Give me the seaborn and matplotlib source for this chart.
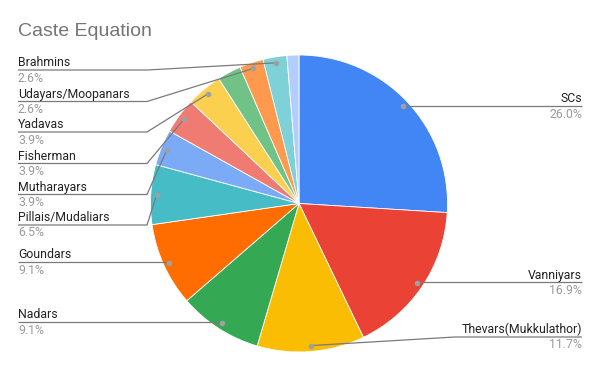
import matplotlib
matplotlib.use("Agg")
import matplotlib.pyplot as plt
import seaborn as sns
import numpy as np

# ---- data ----
categories = ["SCs", "Vanniyars", "Thevars(Mukkulathor)", "Nadars", "Goundars",
              "Pillais/Mudaliars", "Mutharayars", "Fisherman", "Yadavas",
              "Others A", "Udayars/Moopanars", "Brahmins", "Others B"]
shares = [26.0, 16.9, 11.7, 9.1, 9.1, 6.5, 3.9, 3.9, 3.9, 2.6, 2.6, 2.6, 1.3]
show_label = [True, True, True, True, True, True, True, True, True,
              False, True, True, False]
colors = ["#4285F4", "#EA4335", "#FBBC04", "#34A853", "#FF6D01", "#46BDC6",
          "#7BAAF7", "#F07B72", "#FCD04F", "#71C287", "#FF994D", "#7ED1D7",
          "#B3CEFB"]
title = "Caste Equation"

# ---- layout (pixel space, y from top) ----
W, H = 600, 371
label_layout = {
    "SCs": ("right", 106, None),
    "Vanniyars": ("right", 282, None),
    "Thevars(Mukkulathor)": ("right", 337, 455),
    "Nadars": ("left", 322, None),
    "Goundars": ("left", 262, None),
    "Pillais/Mudaliars": ("left", 225, 147),
    "Mutharayars": ("left", 194.5, 147),
    "Fisherman": ("left", 163.5, 147),
    "Yadavas": ("left", 132, 147),
    "Udayars/Moopanars": ("left", 101.5, 147),
    "Brahmins": ("left", 70, 147),
}

sns.set_theme(style="white")
plt.rcParams["font.family"] = ["Roboto", "DejaVu Sans"]

fig = plt.figure(figsize=(W / 100, H / 100), dpi=100)
ax = fig.add_axes([0, 0, 1, 1])
cx, cy, R = 299, 203.5, 148.5
pal = sns.color_palette(colors)
wedges, _ = ax.pie(shares, colors=pal, startangle=90, counterclock=False,
                   center=(cx, H - cy), radius=R,
                   wedgeprops=dict(edgecolor="white", linewidth=0.6))
ax.set_xlim(0, W)
ax.set_ylim(0, H)
ax.set_aspect("equal")
ax.axis("off")

def Y(y):
    return H - y

line_c = "#7a7a7a"
fs = 8.8
for w, name, val, show in zip(wedges, categories, shares, show_label):
    if not show:
        continue
    mid = np.deg2rad((w.theta1 + w.theta2) / 2)
    dx = cx + 0.96 * R * np.cos(mid)
    dy = (H - cy) + 0.96 * R * np.sin(mid)
    side, uy, bx = label_layout[name]
    if side == "right":
        x_end = 582
        if bx is None:
            xs, ys = [x_end, dx], [Y(uy), Y(uy)]
        else:
            xs, ys = [x_end, bx, dx], [Y(uy), Y(uy), dy]
        ax.plot(xs, ys, color=line_c, lw=0.9, solid_capstyle="butt", zorder=3)
        ax.text(x_end, Y(uy - 3.5), name, ha="right", va="baseline",
                fontsize=fs, color="#222222")
        ax.text(x_end, Y(uy + 11.5), f"{val:.1f}%", ha="right", va="baseline",
                fontsize=fs, color="#9a9a9a")
    else:
        x_start = 18
        if bx is None:
            xs, ys = [x_start, dx], [Y(uy), Y(uy)]
        else:
            xs, ys = [x_start, bx, dx], [Y(uy), Y(uy), dy]
        ax.plot(xs, ys, color=line_c, lw=0.9, solid_capstyle="butt", zorder=3)
        ax.text(x_start, Y(uy - 3.5), name, ha="left", va="baseline",
                fontsize=fs, color="#222222")
        ax.text(x_start, Y(uy + 11.5), f"{val:.1f}%", ha="left", va="baseline",
                fontsize=fs, color="#9a9a9a")
    ax.plot([dx], [dy], "o", ms=4, color="#a0a0a0", mec="none", zorder=4)

fig.text(18 / W, 1 - 36 / H, title, ha="left", va="baseline", fontsize=14,
         color="#757575", family=["Liberation Sans", "DejaVu Sans"])

fig.savefig("out.png", dpi=100, facecolor="white")
